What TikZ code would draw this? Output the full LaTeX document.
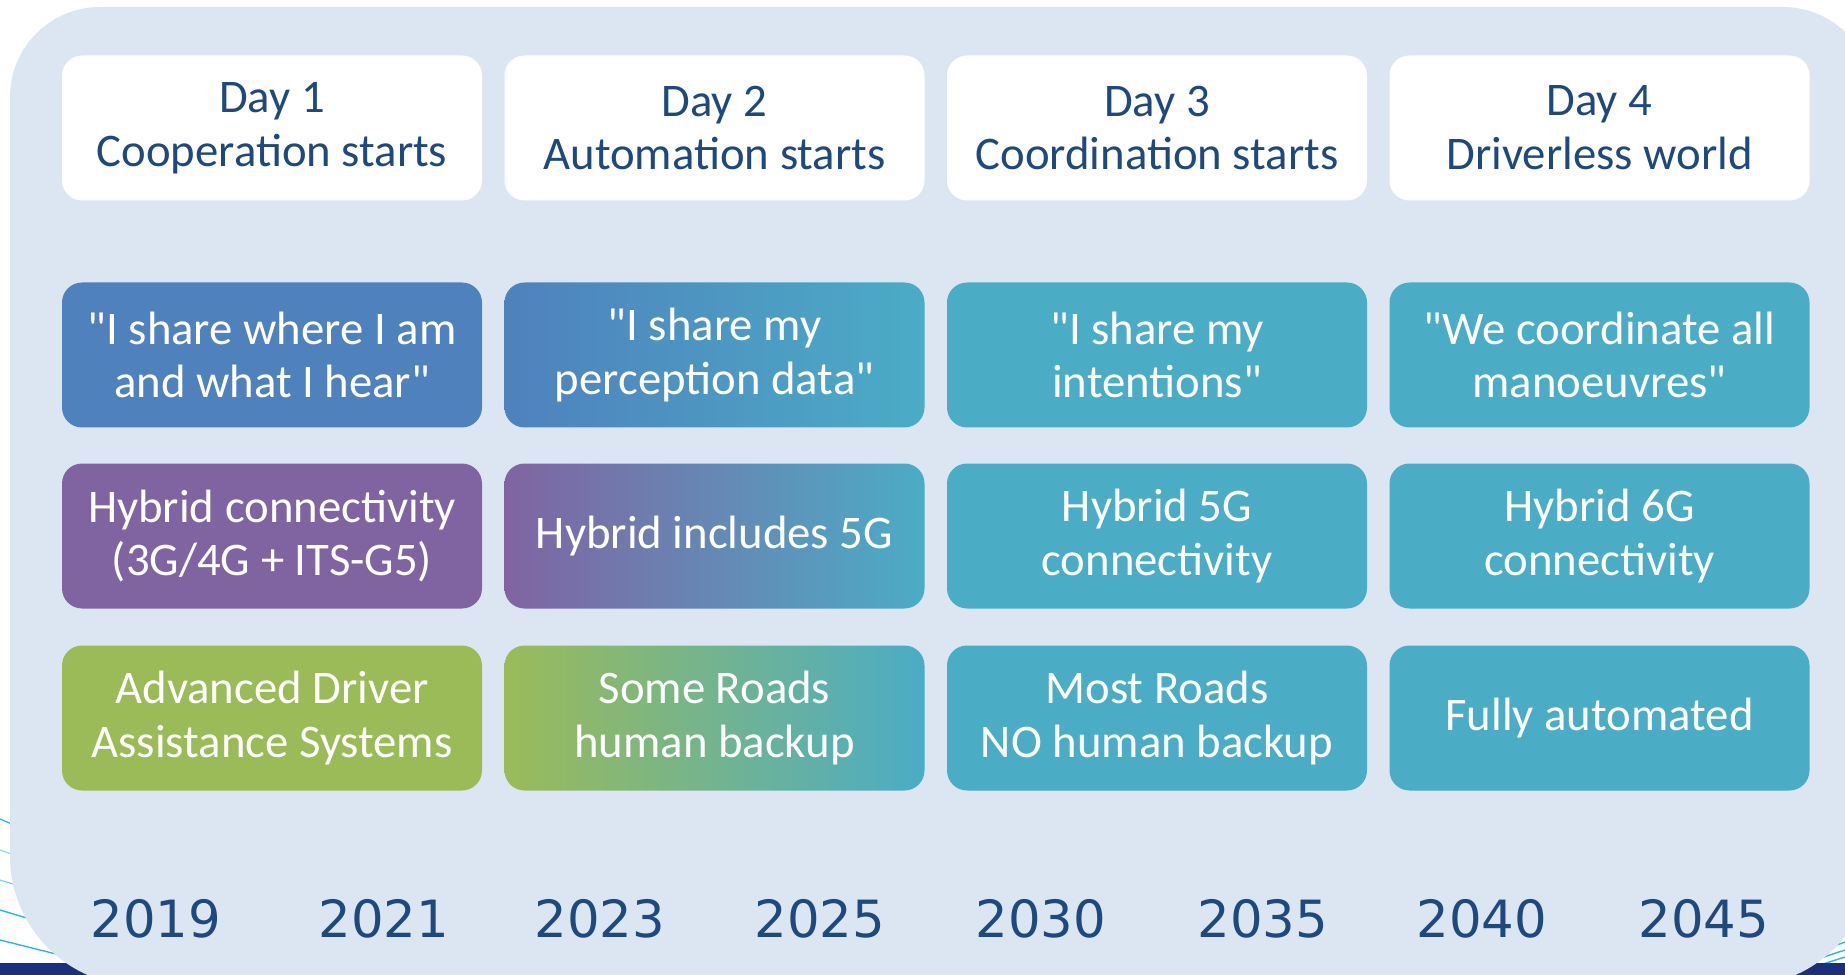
\documentclass[tikz,border=0pt]{standalone}
\usepackage{fontspec}
\setmainfont{Carlito}
\newfontfamily\yearfont{DejaVu Sans}

\definecolor{bgblue}{RGB}{220,230,242}
\definecolor{navyband}{RGB}{27,47,122}
\definecolor{lineblue}{RGB}{41,182,236}
\definecolor{darktext}{RGB}{31,73,125}
\definecolor{accblue}{RGB}{79,129,189}
\definecolor{accteal}{RGB}{75,172,198}
\definecolor{accpurple}{RGB}{128,100,162}
\definecolor{accgreen}{RGB}{155,187,89}

\tikzset{
  card/.style={rounded corners=0.2cm, minimum width=4.2cm, minimum height=1.45cm,
    inner sep=0pt, align=center, font=\fontsize{13.3}{15.3}\selectfont},
  headcard/.style={card, fill=white, text=darktext},
  colcard/.style={card, text=white},
  yearlabel/.style={anchor=base, text=darktext, font=\yearfont\fontsize{14.6}{16}\selectfont}
}

\begin{document}
\begin{tikzpicture}[x=0.1mm, y=-0.1mm]
        \useasboundingbox (0,0) rectangle (1845,975);
        \clip (0,0) rectangle (1845,975);
        \fill[white] (0,0) rectangle (1845,975);

        % corner decoration
        \draw[lineblue, line width=0.35pt] (0,819) -- (200,905);
        \draw[lineblue!60, line width=0.3pt] (0,850) -- (200,920);
        \draw[lineblue!70, line width=0.3pt] (0,880) -- (200,940);
        \draw[lineblue, line width=0.4pt] (0,910) -- (200,970);
        \draw[lineblue, line width=0.4pt] (0,940) -- (200,990);
        \draw[lineblue, line width=0.4pt] (1760,972) -- (1845,942);
        \draw[lineblue, line width=0.4pt] (1760,978) -- (1845,950);
        \draw[lineblue, line width=0.4pt] (1760,984) -- (1845,957);
        \fill[navyband] (0,963) rectangle (1845,975);

        % panel
        \fill[bgblue, rounded corners=0.9cm] (10,7) rectangle (1873,700);
        \fill[bgblue, rounded corners=1.3cm] (10,300) rectangle (1873,986);

        \node[headcard] (day1) at (272,128) {Day 1\\Cooperation starts};
        \node[headcard] (day2) at (714.5,128) {Day 2\\Automation starts};
        \node[headcard] (day3) at (1157,128) {Day 3\\Coordination starts};
        \node[headcard] (day4) at (1599.5,128) {Day 4\\Driverless world};

        \node[colcard, fill=accblue] (talk1) at (272,355) {\textquotedbl I share where I am\\and what I hear\textquotedbl};
        \node[colcard, left color=accblue, right color=accteal] (talk2) at (714.5,355) {\textquotedbl I share my\\perception data\textquotedbl};
        \node[colcard, fill=accteal] (talk3) at (1157,355) {\textquotedbl I share my\\intentions\textquotedbl};
        \node[colcard, fill=accteal] (talk4) at (1599.5,355) {\textquotedbl We coordinate all\\manoeuvres\textquotedbl};

        \node[colcard, fill=accpurple] (link1) at (272,536) {Hybrid connectivity\\(3G/4G + ITS-G5)};
        \node[colcard, left color=accpurple, right color=accteal] (link2) at (714.5,536) {Hybrid includes 5G};
        \node[colcard, fill=accteal] (link3) at (1157,536) {Hybrid 5G\\connectivity};
        \node[colcard, fill=accteal] (link4) at (1599.5,536) {Hybrid 6G\\connectivity};

        \node[colcard, fill=accgreen] (road1) at (272,718) {Advanced Driver\\Assistance Systems};
        \node[colcard, left color=accgreen, right color=accteal] (road2) at (714.5,718) {Some Roads\\human backup};
        \node[colcard, fill=accteal] (road3) at (1157,718) {Most Roads\\NO human backup};
        \node[colcard, fill=accteal] (road4) at (1599.5,718) {Fully automated};

        \node[yearlabel] (y2019) at (156,937) {2019};
        \node[yearlabel] (y2021) at (384,937) {2021};
        \node[yearlabel] (y2023) at (600,937) {2023};
        \node[yearlabel] (y2025) at (820,937) {2025};
        \node[yearlabel] (y2030) at (1041,937) {2030};
        \node[yearlabel] (y2035) at (1263,937) {2035};
        \node[yearlabel] (y2040) at (1482,937) {2040};
        \node[yearlabel] (y2045) at (1704,937) {2045};

    \end{tikzpicture}
\end{document}
